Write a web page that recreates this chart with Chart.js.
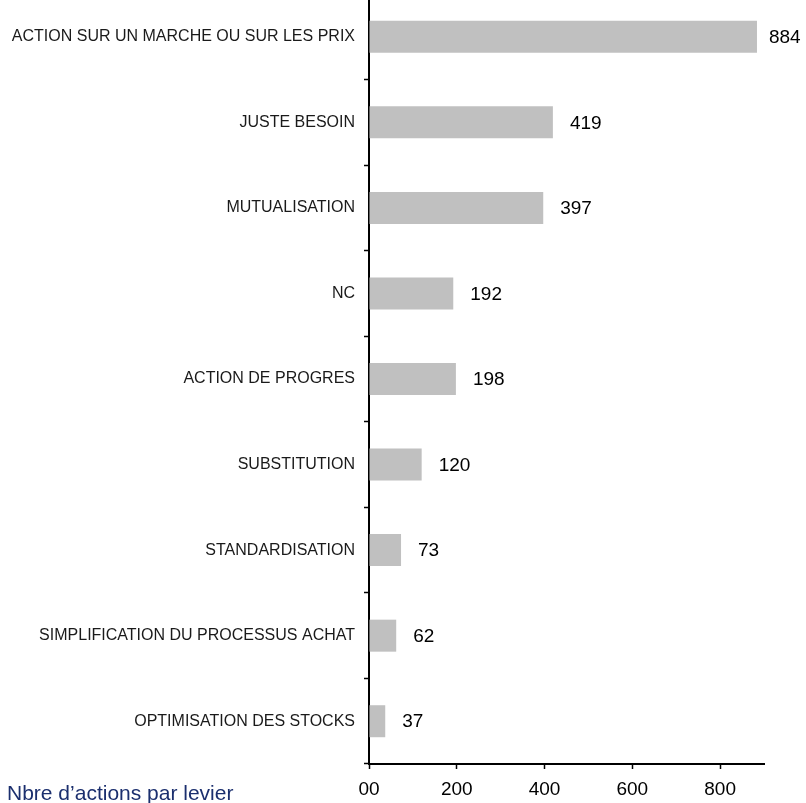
<!DOCTYPE html>
<html>
<head>
<meta charset="utf-8">
<script src="https://cdn.jsdelivr.net/npm/chart.js@4/dist/chart.umd.min.js"></script>
<style>
  html, body { margin: 0; padding: 0; background: #fff; overflow: hidden; }
  body { width: 806px; height: 803px; position: relative; }
  #wrap { position: absolute; left: 0; top: -6px; width: 806px; height: 809px; }
  #title { position: absolute; left: 7px; top: 782px; font: 21px "Liberation Sans", Arial, sans-serif; line-height: 21px; color: #1b2f6e; white-space: nowrap; }
</style>
</head>
<body>
<div id="wrap"><canvas id="c"></canvas></div>
<div id="title">Nbre d’actions par levier</div>
<script>
const categories = [
  "ACTION SUR UN MARCHE OU SUR LES PRIX",
  "JUSTE BESOIN",
  "MUTUALISATION",
  "NC",
  "ACTION DE PROGRES",
  "SUBSTITUTION",
  "STANDARDISATION",
  "SIMPLIFICATION DU PROCESSUS ACHAT",
  "OPTIMISATION DES STOCKS"
];
const actionCounts = [884, 419, 397, 192, 198, 120, 73, 62, 37];
const xTickValues = [0, 200, 400, 600, 800];
const xTickLabels = ["00", "200", "400", "600", "800"];
const xMin = 0, xMax = 900;

const valueLabels = {
  id: 'valueLabels',
  afterDatasetsDraw(chart) {
    const ctx = chart.ctx;
    const meta = chart.getDatasetMeta(0);
    ctx.save();
    ctx.font = '19px "Liberation Sans", Arial, sans-serif';
    ctx.fillStyle = '#000';
    ctx.textAlign = 'left';
    ctx.textBaseline = 'middle';
    meta.data.forEach((bar, i) => {
      const gap = actionCounts[i] > 800 ? 12 : 17;
      ctx.fillText(String(actionCounts[i]), bar.x + gap, bar.y + 1);
    });
    ctx.restore();
  }
};

new Chart(document.getElementById('c'), {
  type: 'bar',
  data: {
    labels: categories,
    datasets: [{
      data: actionCounts,
      backgroundColor: '#c0c0c0',
      borderWidth: 0,
      barPercentage: 0.374,
      categoryPercentage: 1.0
    }]
  },
  options: {
    indexAxis: 'y',
    responsive: true,
    maintainAspectRatio: false,
    animation: false,
    layout: { padding: { top: 0, right: 42, bottom: 0, left: 0 } },
    plugins: { legend: { display: false }, tooltip: { enabled: false } },
    scales: {
      y: {
        type: 'category',
        offset: true,
        afterFit(scale) { scale.width = 369; scale.paddingTop = 0; scale.paddingBottom = 0; },
        grid: {
          display: true,
          offset: true,
          drawOnChartArea: false,
          drawTicks: true,
          tickLength: 5,
          tickWidth: 1.5,
          tickColor: '#000'
        },
        border: { display: true, color: '#000', width: 2 },
        ticks: {
          color: '#1a1a1a',
          padding: 9,
          font: { family: '"Liberation Sans", Arial, sans-serif', size: 16 }
        }
      },
      x: {
        type: 'linear',
        min: xMin,
        max: xMax,
        afterFit(scale) { scale.height = 39; scale.paddingLeft = 0; scale.paddingRight = 0; },
        afterBuildTicks(scale) { scale.ticks = xTickValues.map(v => ({ value: v })); },
        grid: {
          display: true,
          drawOnChartArea: false,
          drawTicks: true,
          tickLength: 5,
          tickWidth: 1.5,
          tickColor: '#000'
        },
        border: { display: true, color: '#000', width: 2 },
        ticks: {
          color: '#000',
          padding: 9,
          maxRotation: 0,
          autoSkip: false,
          font: { family: '"Liberation Sans", Arial, sans-serif', size: 19 },
          callback(value, index) { return xTickLabels[index]; }
        }
      }
    }
  },
  plugins: [valueLabels]
});
</script>
</body>
</html>
